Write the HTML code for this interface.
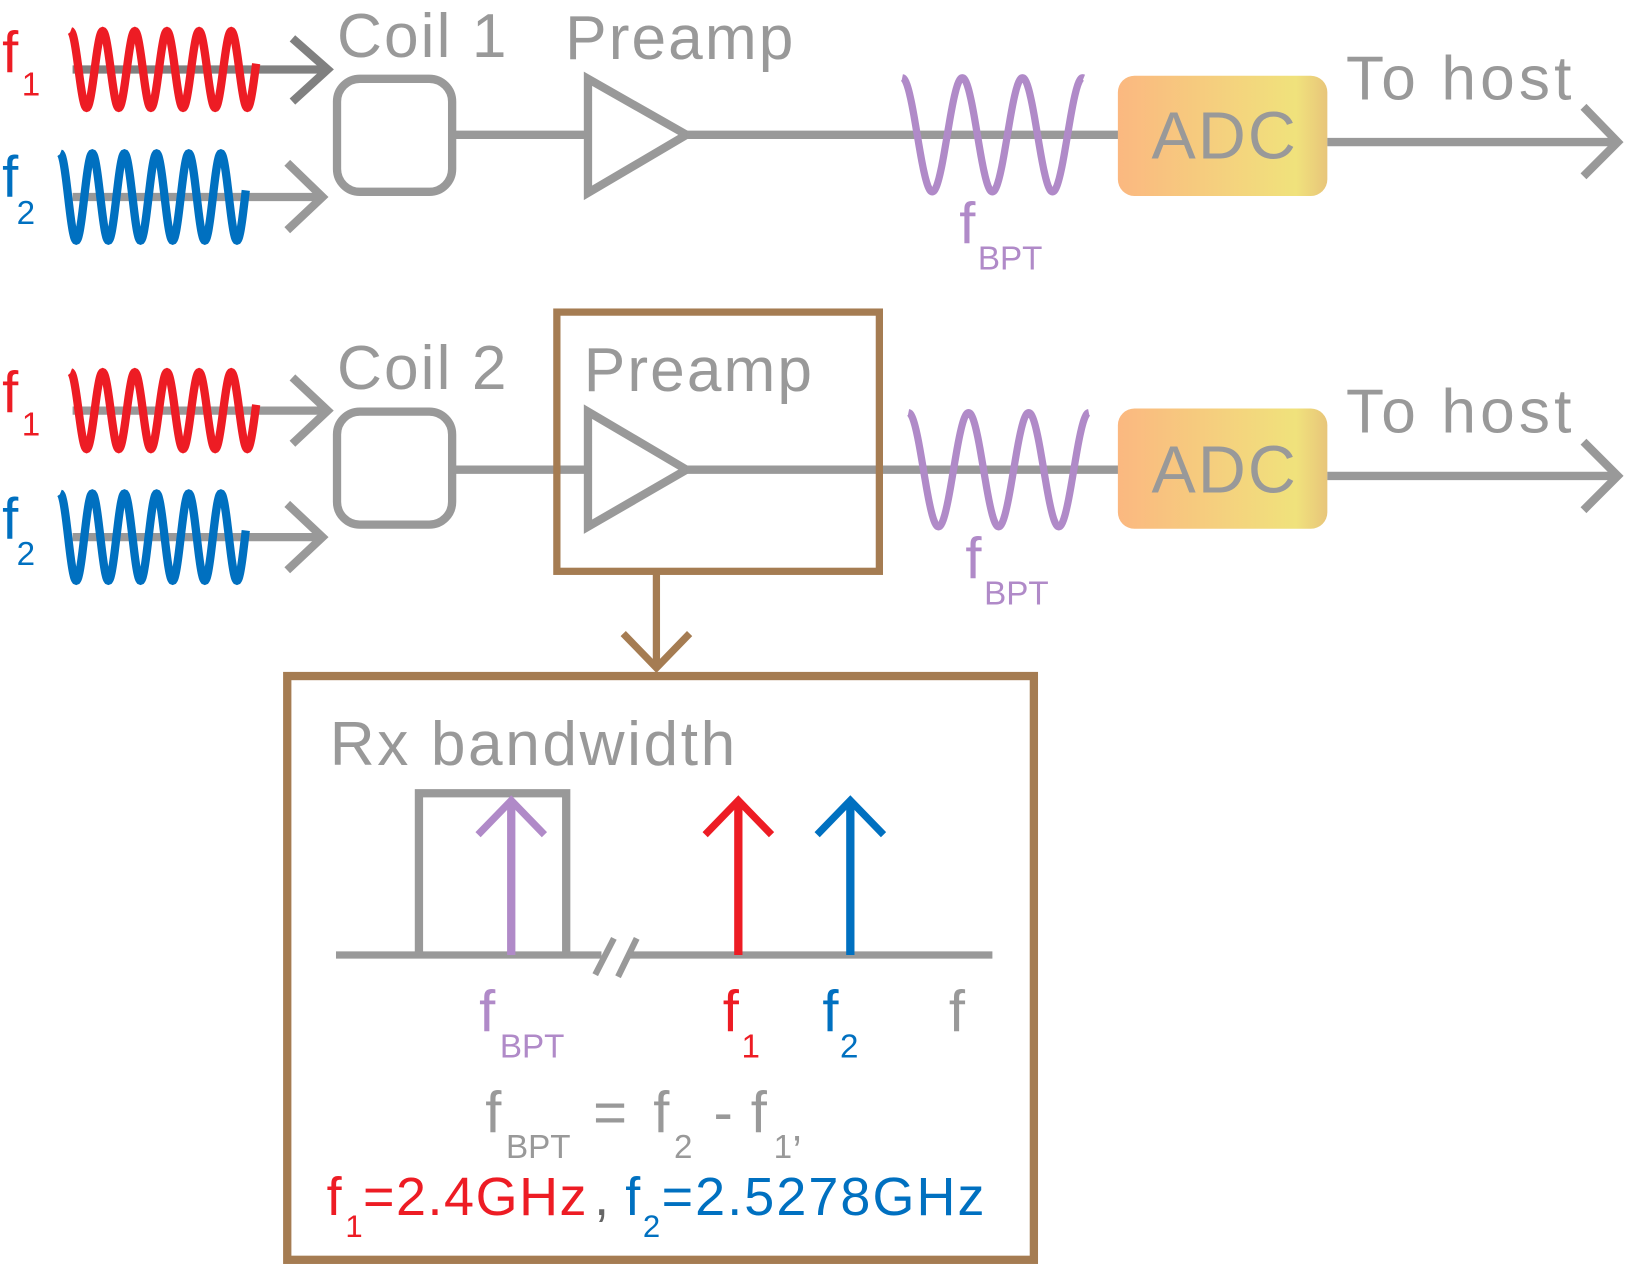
<!DOCTYPE html>
<html><head><meta charset="utf-8"><style>
html,body{margin:0;padding:0;background:#fff;}
svg{display:block;}
text{font-family:"Liberation Sans",sans-serif;}
.ls{letter-spacing:2px;}
</style></head><body>
<svg id="s" width="1626" height="1265" viewBox="0 0 1568 1220" preserveAspectRatio="none" xmlns="http://www.w3.org/2000/svg">
<defs>
<linearGradient id="g" x1="0" x2="1" y1="0" y2="0">
<stop offset="0" stop-color="#fbb880"/><stop offset="0.85" stop-color="#f0e27c"/><stop offset="1" stop-color="#e8c57a"/>
</linearGradient>
</defs>
<g id="row1">
<line x1="70" y1="67" x2="316" y2="67" stroke="#808080" stroke-width="8"/>
<polyline points="282,37 316,67 282,98" fill="none" stroke="#808080" stroke-width="8"/>
<line x1="70" y1="190" x2="311" y2="190" stroke="#999" stroke-width="8"/>
<polyline points="277,157 311,190 277,222" fill="none" stroke="#999" stroke-width="8"/>
<rect x="325" y="76" width="111" height="109" rx="22" fill="none" stroke="#999" stroke-width="8"/>
<line x1="436" y1="130" x2="567" y2="130" stroke="#999" stroke-width="8"/>
<polygon points="567,76 567,186 662,130" fill="none" stroke="#999" stroke-width="8"/>
<line x1="662" y1="130" x2="1080" y2="130" stroke="#999" stroke-width="8"/>
<rect x="1078" y="73" width="202" height="116" rx="16" fill="url(#g)"/>
<text x="1181" y="153" font-size="64" fill="#999" text-anchor="middle" class="ls">ADC</text>
<line x1="1280" y1="137" x2="1560" y2="137" stroke="#999" stroke-width="8"/>
<polyline points="1527,103 1560,137 1527,170" fill="none" stroke="#999" stroke-width="8"/>
<text x="325" y="55" font-size="60" fill="#999" class="ls">Coil 1</text>
<text x="545" y="57" font-size="60" fill="#999" class="ls">Preamp</text>
<text x="1298" y="96" font-size="60" fill="#999" style="letter-spacing:4px">To host</text>
<text x="2" y="70" font-size="56" fill="#ed1c24">f</text><text x="21" y="92" font-size="32" fill="#ed1c24">1</text>
<text x="2" y="190" font-size="56" fill="#0070c0">f</text><text x="16" y="216" font-size="32" fill="#0070c0">2</text>
<text x="925" y="235" font-size="56" fill="#b08ac8">f</text><text x="943" y="260" font-size="32" fill="#b08ac8">BPT</text>
</g>
<g id="row2">
<line x1="70" y1="396" x2="316" y2="396" stroke="#999" stroke-width="8"/>
<polyline points="282,364 316,396 282,428" fill="none" stroke="#999" stroke-width="8"/>
<line x1="70" y1="518" x2="311" y2="518" stroke="#999" stroke-width="8"/>
<polyline points="277,486 311,518 277,550" fill="none" stroke="#999" stroke-width="8"/>
<rect x="325" y="397" width="111" height="109" rx="22" fill="none" stroke="#999" stroke-width="8"/>
<line x1="436" y1="453" x2="567" y2="453" stroke="#999" stroke-width="8"/>
<polygon points="567,397 567,508 662,453" fill="none" stroke="#999" stroke-width="8"/>
<line x1="662" y1="453" x2="1080" y2="453" stroke="#999" stroke-width="8"/>
<rect x="1078" y="394" width="202" height="116" rx="16" fill="url(#g)"/>
<text x="1181" y="475" font-size="64" fill="#999" text-anchor="middle" class="ls">ADC</text>
<line x1="1280" y1="459" x2="1560" y2="459" stroke="#999" stroke-width="8"/>
<polyline points="1527,426 1560,459 1527,492" fill="none" stroke="#999" stroke-width="8"/>
<text x="325" y="375" font-size="60" fill="#999" class="ls">Coil 2</text>
<text x="563" y="377" font-size="60" fill="#999" class="ls">Preamp</text>
<text x="1298" y="417" font-size="60" fill="#999" style="letter-spacing:4px">To host</text>
<text x="2" y="398" font-size="56" fill="#ed1c24">f</text><text x="21" y="420" font-size="32" fill="#ed1c24">1</text>
<text x="2" y="520" font-size="56" fill="#0070c0">f</text><text x="16" y="545" font-size="32" fill="#0070c0">2</text>
<text x="931" y="558" font-size="56" fill="#b08ac8">f</text><text x="949" y="583" font-size="32" fill="#b08ac8">BPT</text>
<rect x="537" y="301" width="311" height="250" fill="none" stroke="#a57c52" stroke-width="7"/>
<line x1="633" y1="551" x2="633" y2="644" stroke="#a57c52" stroke-width="7"/>
<polyline points="601,611 633,644 665,611" fill="none" stroke="#a57c52" stroke-width="7"/>
</g>
<g id="box">
<rect x="277" y="652" width="720" height="563" fill="none" stroke="#a57c52" stroke-width="8"/>
<text x="318" y="738" font-size="60" fill="#999" style="letter-spacing:2.5px">Rx bandwidth</text>
<line x1="324" y1="921" x2="580" y2="921" stroke="#999" stroke-width="7"/>
<line x1="606" y1="921" x2="957" y2="921" stroke="#999" stroke-width="7"/>
<line x1="574" y1="940" x2="592" y2="905" stroke="#999" stroke-width="6"/>
<line x1="596" y1="942" x2="614" y2="905" stroke="#999" stroke-width="6"/>
<polyline points="404,921 404,765 546,765 546,921" fill="none" stroke="#999" stroke-width="8"/>
<line x1="493" y1="921" x2="493" y2="774" stroke="#b08ac8" stroke-width="8"/>
<polyline points="461,805 493,772 525,805" fill="none" stroke="#b08ac8" stroke-width="7"/>
<line x1="712" y1="921" x2="712" y2="772" stroke="#ed1c24" stroke-width="8"/>
<polyline points="680,805 712,772 744,805" fill="none" stroke="#ed1c24" stroke-width="7"/>
<line x1="820" y1="921" x2="820" y2="772" stroke="#0070c0" stroke-width="8"/>
<polyline points="788,805 820,772 852,805" fill="none" stroke="#0070c0" stroke-width="7"/>
<text x="462" y="995" font-size="56" fill="#b08ac8">f</text><text x="482" y="1020" font-size="32" fill="#b08ac8">BPT</text>
<text x="697" y="995" font-size="56" fill="#ed1c24">f</text><text x="715" y="1020" font-size="32" fill="#ed1c24">1</text>
<text x="793" y="995" font-size="56" fill="#0070c0">f</text><text x="810" y="1020" font-size="32" fill="#0070c0">2</text>
<text x="915" y="995" font-size="56" fill="#999">f</text>
<text x="468" y="1092" font-size="56" fill="#999">f</text><text x="488" y="1117" font-size="32" fill="#999">BPT</text>
<text x="572" y="1092" font-size="56" fill="#999">=</text>
<text x="630" y="1092" font-size="56" fill="#999">f</text><text x="650" y="1117" font-size="32" fill="#999">2</text>
<text x="688" y="1092" font-size="56" fill="#999">-</text>
<text x="724" y="1092" font-size="56" fill="#999">f</text><text x="746" y="1117" font-size="32" fill="#999">1</text><text x="763" y="1100" font-size="40" fill="#999">,</text>
<text x="315" y="1172" font-size="52" fill="#ed1c24">f</text><text x="333" y="1193" font-size="30" fill="#ed1c24">1</text>
<text x="350" y="1172" font-size="52" fill="#ed1c24" style="letter-spacing:1.5px">=2.4GHz</text><text x="573" y="1172" font-size="52" fill="#666">,</text>
<text x="603" y="1172" font-size="52" fill="#0070c0">f</text><text x="620" y="1193" font-size="30" fill="#0070c0">2</text>
<text x="638" y="1172" font-size="52" fill="#0070c0" style="letter-spacing:2px">=2.5278GHz</text>
</g>
<path id="w1" fill="none" stroke="#ed1c24" stroke-width="8"/>
<path id="w2" fill="none" stroke="#0070c0" stroke-width="8"/>
<path id="w3" fill="none" stroke="#ed1c24" stroke-width="8"/>
<path id="w4" fill="none" stroke="#0070c0" stroke-width="8"/>
<path id="w5" fill="none" stroke="#b08ac8" stroke-width="7"/>
<path id="w6" fill="none" stroke="#b08ac8" stroke-width="7"/>
</svg>
<script>
function wave(id,x0,x1,cy,amp,per){
  var d="",n=0;
  for(var x=x0;x<=x1;x+=0.5){
    var y=cy-amp*Math.cos(2*Math.PI*(x-x0)/per);
    d+=(n++?"L":"M")+x.toFixed(1)+","+y.toFixed(1);
  }
  document.getElementById(id).setAttribute("d",d);
}
wave("w1",68,247,67,37,31);
wave("w2",58,237,190,42,31);
wave("w3",68,247,396,37,31);
wave("w4",58,237,518,42,31);
wave("w5",870,1045,130,55,58);
wave("w6",876,1050,453,55,58);
</script>
</body></html>
